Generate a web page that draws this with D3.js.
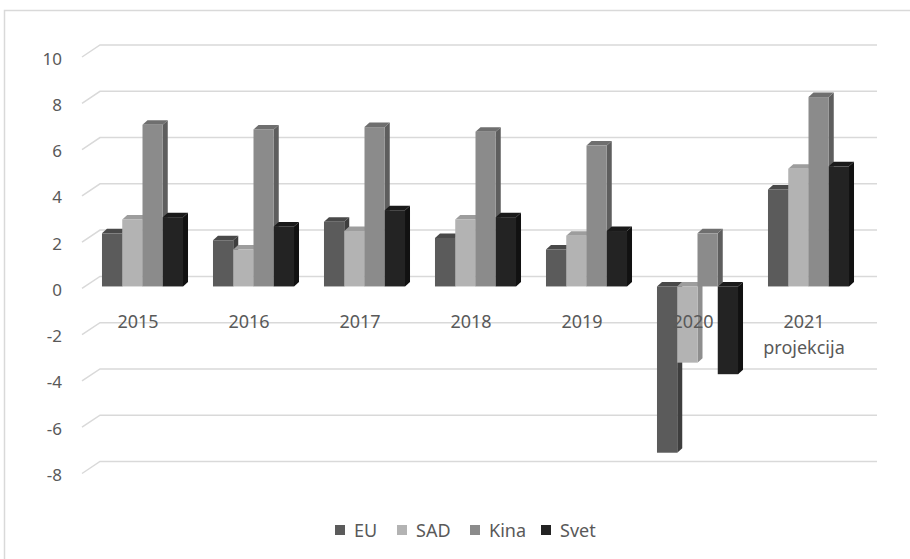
<!DOCTYPE html>
<html>
<head>
<meta charset="utf-8">
<script src="https://cdn.jsdelivr.net/npm/d3@7"></script>
<style>
  body { margin: 0; background: #fff; }
  text { font-family: "Noto Sans", "Open Sans", sans-serif; fill: #595959; }
</style>
</head>
<body>
<div id="chart"></div>
<script>
var years = ["2015", "2016", "2017", "2018", "2019", "2020", "2021"];
var yearSub = ["", "", "", "", "", "", "projekcija"];
var seriesNames = ["EU", "SAD", "Kina", "Svet"];
var eu   = [2.3, 2.0, 2.8, 2.1, 1.6, -7.2, 4.2];
var sad  = [2.9, 1.6, 2.4, 2.9, 2.2, -3.3, 5.1];
var kina = [7.0, 6.8, 6.9, 6.7, 6.1, 2.3, 8.2];
var svet = [3.0, 2.6, 3.3, 3.0, 2.4, -3.8, 5.2];
var yTicks = [10, 8, 6, 4, 2, 0, -2, -4, -6, -8];

// front / side / top shades per series
var colors = {
    EU:   {front: "#5b5b5b", side: "#3e3e3e", top: "#494949"},
    SAD:  {front: "#b3b3b3", side: "#8e8e8e", top: "#9d9d9d"},
    Kina: {front: "#8b8b8b", side: "#5e5e5e", top: "#6f6f6f"},
    Svet: {front: "#232323", side: "#111111", top: "#1a1a1a"}
};

var width = 910, height = 559;
var svg = d3.select("#chart").append("svg")
    .attr("width", width).attr("height", height);

// chart frame (cropped on right and bottom)
svg.append("rect")
    .attr("x", 4.5).attr("y", 10.5)
    .attr("width", 920).attr("height", 560)
    .attr("fill", "none").attr("stroke", "#d9d9d9").attr("stroke-width", 1.5);

var backY = d3.scaleLinear().domain([-8, 10]).range([461.5, 45]);
var frontY = d3.scaleLinear().domain([-8, 10]).range([473.5, 57]);
var barY = d3.scaleLinear().domain([-8, 10]).range([471.2, 55.5]);
var x0 = d3.scaleBand().domain(years).range([87, 864]).paddingInner(0.27).paddingOuter(0.135);
var x1 = d3.scaleBand().domain(seriesNames).range([0, x0.bandwidth()]).padding(0);

var gridX0 = 82, gridX1 = 100, gridEnd = 877;
var depthX = 5, depthY = 4.5;

// gridlines: diagonal on the side wall + horizontal on the back wall
var grid = svg.append("g").attr("stroke", "#d9d9d9").attr("stroke-width", 1.5).attr("fill", "none");
yTicks.forEach(function(t){
    grid.append("path")
        .attr("d", "M" + gridX0 + "," + frontY(t) + "L" + gridX1 + "," + backY(t) + "L" + gridEnd + "," + backY(t));
});

// y axis labels
svg.append("g").selectAll("text").data(yTicks).enter().append("text")
    .attr("x", 62).attr("y", function(d){ return frontY(d) + 1; })
    .attr("text-anchor", "end").attr("dominant-baseline", "central")
    .style("font-size", "17px")
    .text(function(d){ return d; });

var table = years.map(function(y, i){
    return {year: y, values: [
        {name: "EU", v: eu[i]}, {name: "SAD", v: sad[i]},
        {name: "Kina", v: kina[i]}, {name: "Svet", v: svet[i]}
    ]};
});

var bars = svg.append("g");
table.forEach(function(g){
    g.values.forEach(function(d){
        var bx = x0(g.year) + x1(d.name);
        var bw = x1.bandwidth();
        var yt = barY(Math.max(0, d.v));
        var yb = barY(Math.min(0, d.v));
        var c = colors[d.name];
        // side face
        bars.append("path")
            .attr("d", "M" + (bx + bw) + "," + yt + "L" + (bx + bw + depthX) + "," + (yt - depthY) +
                "L" + (bx + bw + depthX) + "," + (yb - depthY) + "L" + (bx + bw) + "," + yb + "Z")
            .attr("fill", c.side);
        // top face
        bars.append("path")
            .attr("d", "M" + bx + "," + yt + "L" + (bx + depthX) + "," + (yt - depthY) +
                "L" + (bx + bw + depthX) + "," + (yt - depthY) + "L" + (bx + bw) + "," + yt + "Z")
            .attr("fill", c.top);
        // front face
        bars.append("rect")
            .attr("x", bx).attr("y", yt)
            .attr("width", bw).attr("height", yb - yt)
            .attr("fill", c.front);
    });
});

// category labels
var cats = svg.append("g");
years.forEach(function(y, i){
    var cx = x0(y) + x0.bandwidth() / 2 - 4.5;
    cats.append("text")
        .attr("x", cx).attr("y", 328)
        .attr("text-anchor", "middle")
        .style("font-size", "18px")
        .text(y);
    if (yearSub[i] !== "") {
        cats.append("text")
            .attr("x", cx).attr("y", 354)
            .attr("text-anchor", "middle")
            .style("font-size", "18px")
            .text(yearSub[i]);
    }
});

// legend
var legendX = [335, 397, 470, 541];
var legend = svg.append("g");
seriesNames.forEach(function(n, i){
    legend.append("rect")
        .attr("x", legendX[i]).attr("y", 525)
        .attr("width", 10).attr("height", 10)
        .attr("fill", colors[n].front);
    legend.append("text")
        .attr("x", legendX[i] + 19).attr("y", 537)
        .style("font-size", "18px")
        .text(n);
});
</script>
</body>
</html>
